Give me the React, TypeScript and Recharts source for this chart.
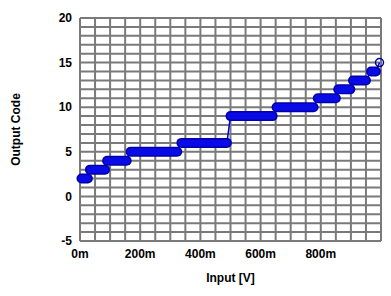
import React from 'react';
import { LineChart, Line, XAxis, YAxis, CartesianGrid, Scatter } from 'recharts';

// staircase transfer curve: one flat run per output code
const stepCodes = [2, 3, 4, 5, 6, 9, 10, 11, 12, 13, 14];
const stepStarts = [0.005, 0.033, 0.09, 0.168, 0.337, 0.5, 0.653, 0.79, 0.858, 0.907, 0.967];
const stepEnds = [0.026, 0.083, 0.155, 0.323, 0.488, 0.64, 0.776, 0.85, 0.898, 0.95, 0.983];
const finalInput = 0.995;
const finalCode = 15;

// every grid line is a tick; only some get a label
const xTicks = [0, 0.05, 0.1, 0.15, 0.2, 0.25, 0.3, 0.35, 0.4, 0.45, 0.5, 0.55, 0.6, 0.65, 0.7, 0.75, 0.8, 0.85, 0.9, 0.95, 1];
const xLabels = ['0m', '', '', '', '200m', '', '', '', '400m', '', '', '', '600m', '', '', '', '800m', '', '', '', ''];
const yTicks = [-5, -4, -3, -2, -1, 0, 1, 2, 3, 4, 5, 6, 7, 8, 9, 10, 11, 12, 13, 14, 15, 16, 17, 18, 19, 20];
const yLabeled = [-5, 0, 5, 10, 15, 20];

const COLORS = {
  OUTLINE: '#0000a8',
  FILL: '#0a0ae6',
  THIN: '#0000e0',
  GRID: '#7a7a7a',
};

const steps = stepCodes.map((code, i) => [
  { x: stepStarts[i], y: code },
  { x: stepEnds[i], y: code },
]);

// thin trace through every run, then to the last sample
const trace = [
  ...steps.flat(),
  { x: finalInput, y: finalCode },
];

const font = { fontFamily: '"Liberation Sans", Arial, sans-serif', fontWeight: 700 };

export default function App() {
  return (
    <div style={{ position: 'fixed', left: 0, top: 0, background: '#fff' }}>
      <LineChart width={391} height={296} margin={{ top: 18, right: 10, left: 0, bottom: 0 }}>
        <CartesianGrid stroke={COLORS.GRID} strokeWidth={2} />
        <XAxis
          type="number"
          dataKey="x"
          domain={[0, 1]}
          ticks={xTicks}
          interval={0}
          axisLine={false}
          tickLine={false}
          height={55}
          tick={{ fill: '#000', fontSize: 12, ...font }}
          tickFormatter={(v, i) => xLabels[i] ?? ''}
          label={{ value: 'Input [V]', position: 'insideBottom', offset: 14, fill: '#000', fontSize: 12, ...font }}
        />
        <YAxis
          type="number"
          dataKey="y"
          domain={[-5, 20]}
          ticks={yTicks}
          interval={0}
          axisLine={false}
          tickLine={false}
          width={80}
          tick={{ fill: '#000', fontSize: 12, ...font }}
          tickFormatter={(v) => (yLabeled.includes(v) ? String(v) : '')}
          label={{ value: 'Output Code', angle: -90, position: 'insideLeft', offset: 16, fill: '#000', fontSize: 12, ...font, style: { textAnchor: 'middle' } }}
        />

        {/* thin connecting trace */}
        <Line
          data={trace}
          dataKey="y"
          stroke={COLORS.THIN}
          strokeWidth={1.5}
          dot={false}
          activeDot={false}
          isAnimationActive={false}
        />

        {/* thick runs: dark outline then fill */}
        {steps.map((seg, i) => (
          <Line
            key={`o${i}`}
            data={seg}
            dataKey="y"
            stroke={COLORS.OUTLINE}
            strokeWidth={10}
            strokeLinecap="round"
            dot={false}
            activeDot={false}
            isAnimationActive={false}
          />
        ))}
        {steps.map((seg, i) => (
          <Line
            key={`f${i}`}
            data={seg}
            dataKey="y"
            stroke={COLORS.FILL}
            strokeWidth={7}
            strokeLinecap="round"
            dot={false}
            activeDot={false}
            isAnimationActive={false}
          />
        ))}

        {/* last sample as open circle */}
        <Scatter
          data={[{ x: finalInput, y: finalCode }]}
          dataKey="y"
          isAnimationActive={false}
          shape={(p: any) => (
            <circle cx={p.cx} cy={p.cy} r={4} fill="none" stroke={COLORS.OUTLINE} strokeWidth={1.5} />
          )}
        />
      </LineChart>
    </div>
  );
}
